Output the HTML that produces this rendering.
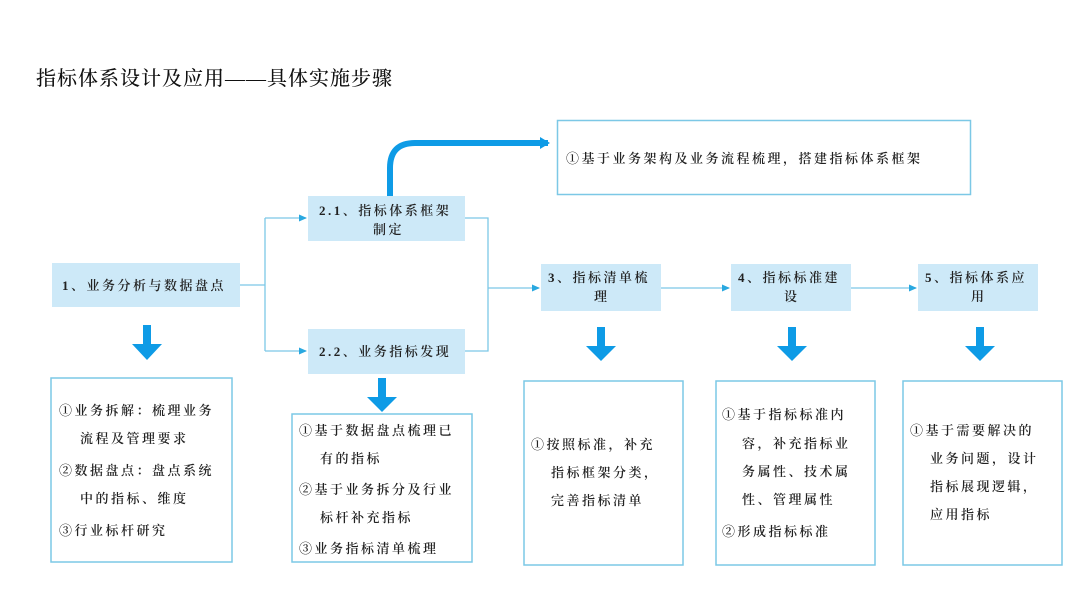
<!DOCTYPE html>
<html><head><meta charset="utf-8"><style>
html,body{margin:0;padding:0;background:#fff;}
svg{display:block}
text{font-family:"Liberation Serif","Noto Serif CJK SC",serif;font-size:13px;fill:#222;letter-spacing:2.5px;font-weight:600}
.t{font-size:20px;letter-spacing:1px;fill:#111;font-weight:500}
</style></head><body>
<svg width="1080" height="608" viewBox="0 0 1080 608" xmlns="http://www.w3.org/2000/svg">
<defs>
<marker id="a" markerWidth="8" markerHeight="8" refX="7" refY="4" orient="auto" markerUnits="userSpaceOnUse"><path d="M0,0.5 L8,4 L0,7.5z" fill="#29a8e0"/></marker>
<marker id="b" markerWidth="10" markerHeight="12" refX="8" refY="6" orient="auto" markerUnits="userSpaceOnUse"><path d="M0,0 L10,6 L0,12z" fill="#0e9be6"/></marker>
</defs>
<text class="t" x="36" y="85">指标体系设计及应用——具体实施步骤</text>

<!-- top box -->
<rect x="557.5" y="120.5" width="413" height="74" fill="#fff" stroke="#7cc8e6" stroke-width="1.5"/>
<text x="566" y="163">①基于业务架构及业务流程梳理，搭建指标体系框架</text>
<path d="M390,196 V168 Q390,143 415,143 H548" fill="none" stroke="#0e9be6" stroke-width="6" marker-end="url(#b)"/>

<!-- light boxes -->
<g fill="#cde9f8">
<rect x="52" y="263" width="188" height="44"/>
<rect x="308" y="196" width="157" height="45"/>
<rect x="308" y="329" width="157" height="45"/>
<rect x="541" y="264" width="120" height="47"/>
<rect x="731" y="264" width="120" height="47"/>
<rect x="918" y="264" width="120" height="47"/>
</g>
<text x="62" y="290">1、业务分析与数据盘点</text>
<text x="319" y="215">2.1、指标体系框架</text>
<text x="373" y="234">制定</text>
<text x="319" y="356">2.2、业务指标发现</text>
<text x="548" y="282">3、指标清单梳</text>
<text x="594" y="301">理</text>
<text x="738" y="282">4、指标标准建</text>
<text x="784" y="301">设</text>
<text x="925" y="282">5、指标体系应</text>
<text x="971" y="301">用</text>

<!-- connectors -->
<g fill="none" stroke="#7cc8e6" stroke-width="1.3">
<path d="M240,285 H265"/>
<path d="M265,218 V351"/>
<path d="M265,218 H306" marker-end="url(#a)"/>
<path d="M265,351 H306" marker-end="url(#a)"/>
<path d="M465,218 H488 V351 H465"/>
<path d="M488,288 H539" marker-end="url(#a)"/>
<path d="M661,288 H729" marker-end="url(#a)"/>
<path d="M851,288 H916" marker-end="url(#a)"/>
</g>

<!-- down arrows -->
<g fill="#0e9be6">
<path d="M143,325 h8 v19 h11 l-15,16 l-15,-16 h11z"/>
<path d="M378,378 h8 v19 h11 l-15,15 l-15,-15 h11z"/>
<path d="M597,327 h8 v19 h11 l-15,15 l-15,-15 h11z"/>
<path d="M788,327 h8 v19 h11 l-15,15 l-15,-15 h11z"/>
<path d="M976,327 h8 v19 h11 l-15,15 l-15,-15 h11z"/>
</g>

<!-- bottom boxes -->
<g fill="#fff" stroke="#7cc8e6" stroke-width="1.5">
<rect x="51" y="378" width="181" height="184"/>
<rect x="292" y="414" width="180" height="148"/>
<rect x="524" y="381" width="159" height="184"/>
<rect x="716" y="381" width="159" height="184"/>
<rect x="903" y="381" width="159" height="184"/>
</g>
<text x="59" y="415">①业务拆解：梳理业务</text>
<text x="80" y="443">流程及管理要求</text>
<text x="59" y="475">②数据盘点：盘点系统</text>
<text x="80" y="503">中的指标、维度</text>
<text x="59" y="535">③行业标杆研究</text>

<text x="299" y="435">①基于数据盘点梳理已</text>
<text x="320" y="463">有的指标</text>
<text x="299" y="494">②基于业务拆分及行业</text>
<text x="320" y="522">标杆补充指标</text>
<text x="299" y="553">③业务指标清单梳理</text>

<text x="531" y="449">①按照标准，补充</text>
<text x="551" y="477">指标框架分类，</text>
<text x="551" y="505">完善指标清单</text>

<text x="722" y="419">①基于指标标准内</text>
<text x="742" y="448">容，补充指标业</text>
<text x="742" y="476">务属性、技术属</text>
<text x="742" y="504">性、管理属性</text>
<text x="722" y="536">②形成指标标准</text>

<text x="910" y="435">①基于需要解决的</text>
<text x="930" y="463">业务问题，设计</text>
<text x="930" y="491">指标展现逻辑，</text>
<text x="930" y="519">应用指标</text>
</svg>
</body></html>
